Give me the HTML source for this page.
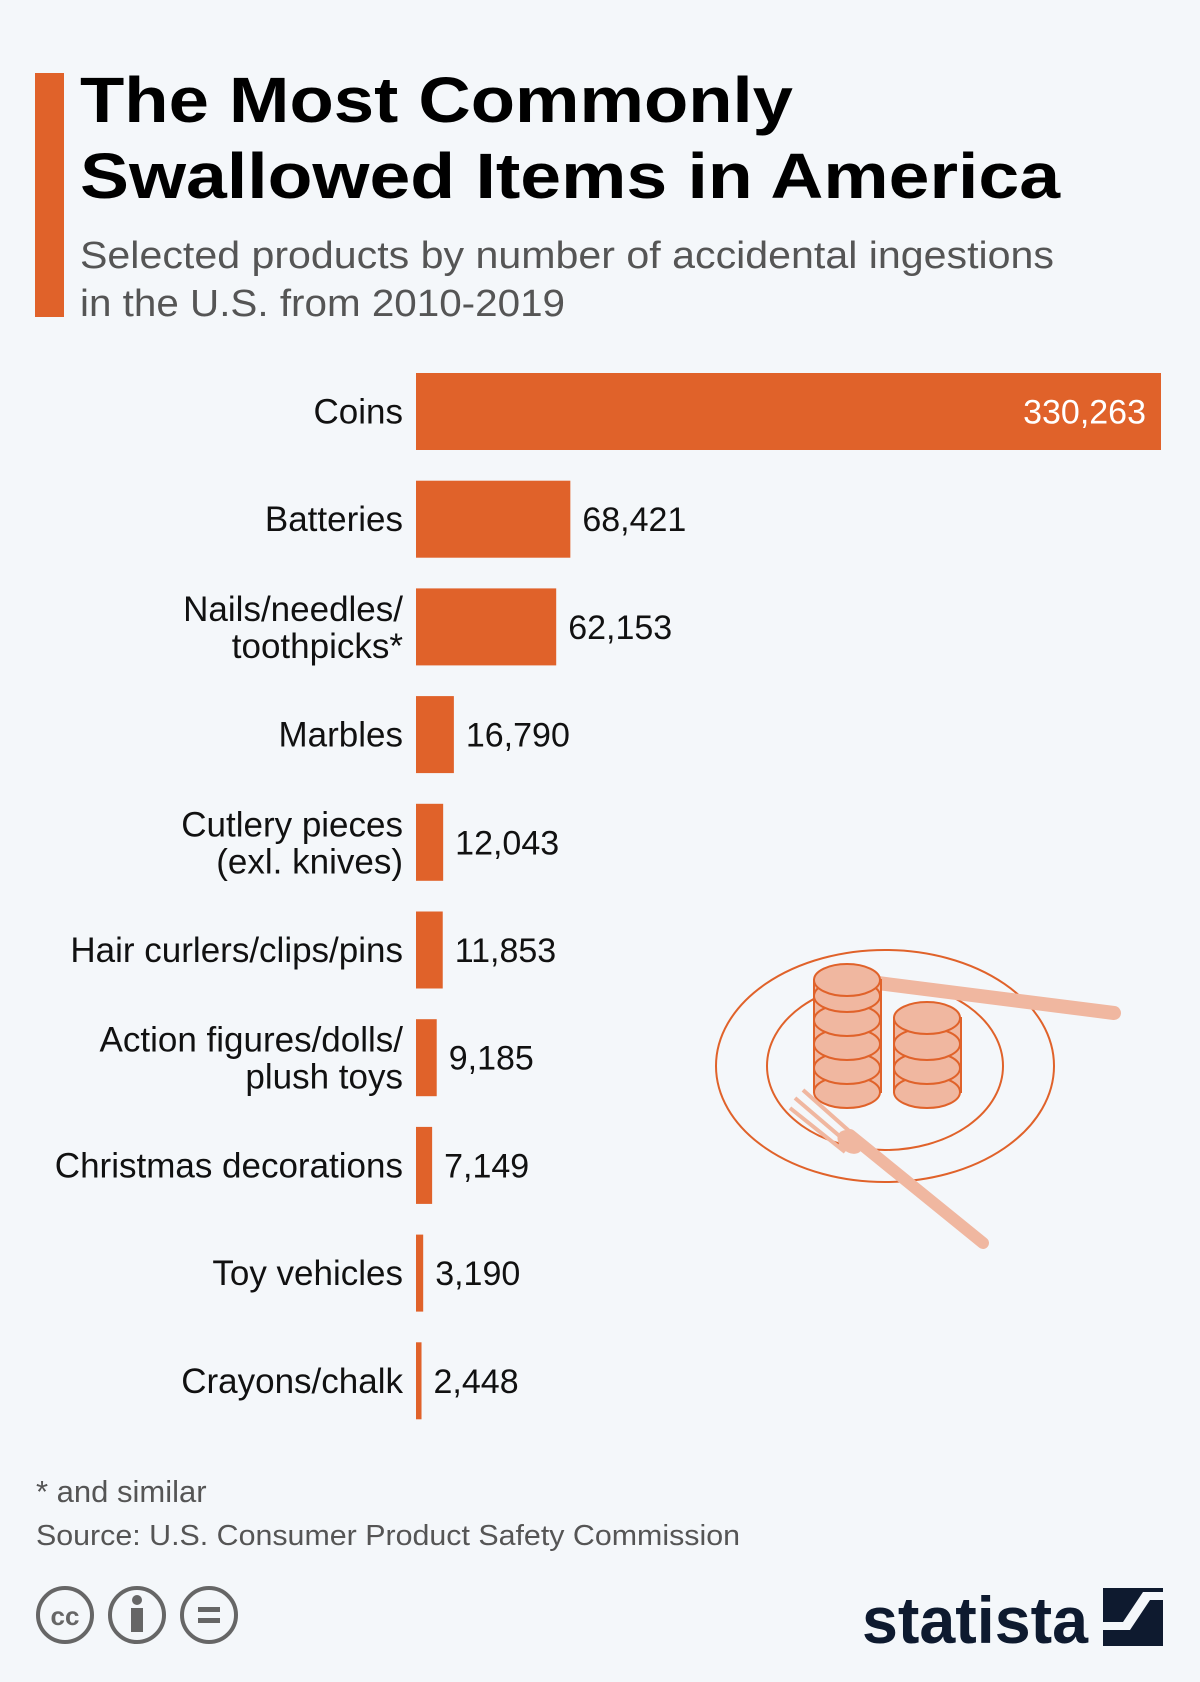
<!DOCTYPE html>
<html><head><meta charset="utf-8">
<style>
html,body{margin:0;padding:0;background:#f4f7fa;}
svg{display:block;font-family:"Liberation Sans",sans-serif;}
</style></head>
<body>
<svg id="chart" width="1200" height="1682" viewBox="0 0 1200 1682">
<rect x="0" y="0" width="1200" height="1682" fill="#f4f7fa"/>
<rect x="35" y="73" width="29" height="244" fill="#e0622a"/>
<text x="80" y="122" font-size="64" font-weight="bold" fill="#000" textLength="713" lengthAdjust="spacingAndGlyphs">The Most Commonly</text>
<text x="80" y="198" font-size="64" font-weight="bold" fill="#000" textLength="980" lengthAdjust="spacingAndGlyphs">Swallowed Items in America</text>
<text x="80" y="268" font-size="38" fill="#555" textLength="974" lengthAdjust="spacingAndGlyphs">Selected products by number of accidental ingestions</text>
<text x="80" y="316" font-size="38" fill="#555" textLength="485" lengthAdjust="spacingAndGlyphs">in the U.S. from 2010-2019</text>
<g id="bars"></g>

<g>
<ellipse cx="885" cy="1066" rx="169" ry="116" fill="none" stroke="#e0622a" stroke-width="2"/>
<ellipse cx="885" cy="1066" rx="118" ry="84" fill="none" stroke="#e0622a" stroke-width="2"/>
<line x1="878" y1="983" x2="1114" y2="1013" stroke="#f0b7a0" stroke-width="14" stroke-linecap="round"/>
<g fill="#f0b7a0" stroke="#e0622a" stroke-width="2">
<rect x="814" y="980" width="67" height="112"/>
<ellipse cx="847" cy="1092" rx="33" ry="16"/>
<ellipse cx="847" cy="1068" rx="33" ry="16"/>
<ellipse cx="847" cy="1044" rx="33" ry="16"/>
<ellipse cx="847" cy="1020" rx="33" ry="16"/>
<ellipse cx="847" cy="996" rx="33" ry="16"/>
<ellipse cx="847" cy="980" rx="33" ry="16"/>
<rect x="894" y="1018" width="67" height="74"/>
<ellipse cx="927" cy="1092" rx="33" ry="16"/>
<ellipse cx="927" cy="1068" rx="33" ry="16"/>
<ellipse cx="927" cy="1044" rx="33" ry="16"/>
<ellipse cx="927" cy="1018" rx="33" ry="16"/>
</g>
<line x1="850" y1="1135" x2="983" y2="1243" stroke="#f0b7a0" stroke-width="12" stroke-linecap="round"/>
<path d="M795 1098 L850 1145" stroke="#f0b7a0" stroke-width="4"/>
<path d="M803 1090 L857 1138" stroke="#f0b7a0" stroke-width="4"/>
<path d="M790 1108 L845 1152" stroke="#f0b7a0" stroke-width="4"/>
<ellipse cx="850" cy="1142" rx="14" ry="10" fill="#f0b7a0" transform="rotate(40 850 1142)"/>
</g>

<text x="36" y="1502" font-size="31" fill="#555">* and similar</text>
<text x="36" y="1545" font-size="29" fill="#555" textLength="704" lengthAdjust="spacingAndGlyphs">Source: U.S. Consumer Product Safety Commission</text>

<g fill="none" stroke="#666" stroke-width="4">
<circle cx="65" cy="1615" r="27"/>
<circle cx="137" cy="1615" r="27"/>
<circle cx="209" cy="1615" r="27"/>
</g>
<text x="65" y="1625" font-size="26" font-weight="bold" fill="#666" text-anchor="middle">cc</text>
<circle cx="137" cy="1600" r="5" fill="#666"/>
<rect x="131" y="1608" width="12" height="24" fill="#666"/>
<rect x="198" y="1607" width="22" height="5" fill="#666"/>
<rect x="198" y="1618" width="22" height="5" fill="#666"/>

<text x="862" y="1643" font-size="66" font-weight="bold" fill="#0e1a2f" textLength="226" lengthAdjust="spacingAndGlyphs">statista</text>
<g>
<rect x="1103" y="1588" width="60" height="58" fill="#0e1a2f"/>
<path d="M1103 1630 L1130 1630 L1150 1600 L1163 1600 L1163 1592 L1143 1592 L1123 1622 L1103 1622 Z" fill="#f4f7fa"/>
</g>
</svg>
<script>
const categories = ["Coins","Batteries","Nails/needles/|toothpicks*","Marbles","Cutlery pieces|(exl. knives)","Hair curlers/clips/pins","Action figures/dolls/|plush toys","Christmas decorations","Toy vehicles","Crayons/chalk"];
const values = [330263,68421,62153,16790,12043,11853,9185,7149,3190,2448];
const valueLabels = ["330,263","68,421","62,153","16,790","12,043","11,853","9,185","7,149","3,190","2,448"];

const NS = "http://www.w3.org/2000/svg";
const g = document.getElementById("bars");
const x0 = 416, maxW = 745, maxV = 330263;
const top0 = 373, pitch = 107.7, bh = 77;
function xScale(v){ return v / maxV * maxW; }
function yPos(i){ return top0 + i * pitch; }
categories.forEach((c, i) => {
  const y = yPos(i), w = xScale(values[i]);
  const r = document.createElementNS(NS, "rect");
  r.setAttribute("x", x0); r.setAttribute("y", y);
  r.setAttribute("width", Math.max(w, 2)); r.setAttribute("height", bh);
  r.setAttribute("fill", "#e0622a");
  
  
  g.appendChild(r);
  const cy = y + bh / 2;
  const lines = c.split("|");
  lines.forEach((ln, k) => {
    const t = document.createElementNS(NS, "text");
    t.setAttribute("x", 403);
    const off = lines.length === 1 ? 12 : (k === 0 ? -6 : 31);
    t.setAttribute("y", cy + off);
    t.setAttribute("font-size", "35");
    t.setAttribute("fill", "#111");
    t.setAttribute("text-anchor", "end");
    t.textContent = ln;
    
    
    g.appendChild(t);
  });
  const v = document.createElementNS(NS, "text");
  v.setAttribute("font-size", "34");
  v.setAttribute("y", cy + 12);
  if (w > 300) {
    v.setAttribute("x", x0 + w - 15);
    v.setAttribute("text-anchor", "end");
    v.setAttribute("fill", "#fff");
  } else {
    v.setAttribute("x", x0 + Math.max(w, 2) + 12);
    v.setAttribute("fill", "#111");
  }
  v.textContent = valueLabels[i];
  
  
  g.appendChild(v);
});
</script>
</body></html>
